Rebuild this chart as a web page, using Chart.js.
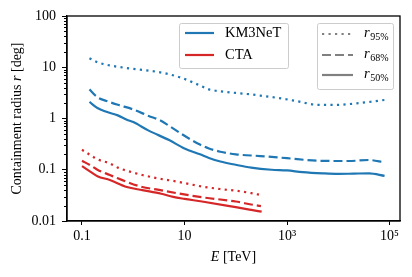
<!DOCTYPE html>
<html>
<head>
<meta charset="utf-8">
<script src="https://cdn.jsdelivr.net/npm/chart.js@4/dist/chart.umd.min.js"></script>
<style>
  html, body { margin: 0; padding: 0; background: #fff; }
</style>
</head>
<body>
<canvas id="chart" width="412" height="277"></canvas>
<script>
// KM3NeT containment radii [deg] vs energy [TeV]
const km95E = [0.14, 0.2, 0.3, 0.5, 1, 2, 3, 5, 8, 12, 20, 30, 50, 100, 200, 300, 700, 1500, 4000, 10000, 20000, 40000, 80000];
const km95R = [15, 12.5, 11.2, 10.2, 9.3, 8.6, 8.1, 7.3, 6.4, 5.5, 4.4, 3.7, 3.4, 3.15, 2.95, 2.8, 2.5, 2.2, 1.85, 1.85, 1.95, 2.1, 2.3];

const km68E = [0.14, 0.2, 0.3, 0.5, 1, 2, 3.3, 5, 10, 20, 30, 50, 100, 300, 1000, 4000, 16000, 39000, 80000];
const km68R = [3.7, 2.6, 2.2, 1.85, 1.5, 1.12, 0.93, 0.72, 0.46, 0.31, 0.26, 0.225, 0.2, 0.185, 0.168, 0.15, 0.148, 0.155, 0.14];

const km50E = [0.14, 0.2, 0.3, 0.5, 0.75, 1, 2, 5, 10, 20, 30, 50, 100, 200, 500, 1000, 2000, 5000, 10000, 20000, 40000, 80000];
const km50R = [2.1, 1.6, 1.35, 1.15, 0.95, 0.85, 0.58, 0.38, 0.26, 0.2, 0.17, 0.145, 0.125, 0.11, 0.1, 0.097, 0.09, 0.085, 0.083, 0.084, 0.085, 0.076];

// CTA containment radii [deg] vs energy [TeV]
const cta95E = [0.1, 0.15, 0.2, 0.35, 0.5, 1, 1.5, 3, 7, 10, 22, 50, 100, 200, 310];
const cta95R = [0.245, 0.19, 0.16, 0.133, 0.11, 0.088, 0.079, 0.068, 0.059, 0.055, 0.047, 0.042, 0.039, 0.035, 0.032];

const cta68E = [0.1, 0.15, 0.2, 0.35, 0.5, 1.5, 3, 7, 22, 100, 200, 310];
const cta68R = [0.15, 0.12, 0.1, 0.079, 0.068, 0.046, 0.041, 0.035, 0.029, 0.024, 0.021, 0.0195];

const cta50E = [0.1, 0.15, 0.2, 0.35, 0.75, 1.5, 3.5, 6, 10, 22, 100, 200, 320];
const cta50R = [0.118, 0.09, 0.075, 0.063, 0.046, 0.04, 0.034, 0.0295, 0.027, 0.024, 0.0186, 0.0165, 0.0152];

const xTicks = [0.1, 10, 1000, 100000];
const xTickLabels = ["0.1", "10", "10\u00B3", "10\u2075"];
const yTicks = [0.01, 0.1, 1, 10, 100];
const yTickLabels = ["0.01", "0.1", "1", "10", "100"];

const BLUE = "#1f77b4";
const RED = "#d62728";
const FONT = "'Liberation Serif', 'DejaVu Serif', serif";
const LW = 2.2;
const DOTTED = [2.2, 4.3];
const DASHED = [9, 4];

const pts = (xs, ys) => xs.map((x, i) => ({ x: x, y: ys[i] }));

const line = (data, color, dash) => ({
  data: data,
  borderColor: color,
  borderWidth: LW,
  borderDash: dash,
  borderCapStyle: "butt",
  pointRadius: 0,
  fill: false,
  cubicInterpolationMode: "monotone",
});

const setTicks = (values) => (scale) => {
  scale.ticks = values.map((v) => ({ value: v }));
};

// frame, minor ticks, legends and axis titles
const extras = {
  id: "extras",
  afterDraw(chart) {
    const { ctx, chartArea: a, scales } = chart;
    const y = scales.y;
    ctx.save();

    // minor y ticks
    ctx.strokeStyle = "#000";
    ctx.lineWidth = 1;
    ctx.beginPath();
    for (let d = -2; d < 2; d++) {
      for (let m = 2; m < 10; m++) {
        const p = Math.round(y.getPixelForValue(m * Math.pow(10, d))) + 0.5;
        ctx.moveTo(a.left - 3, p);
        ctx.lineTo(a.left, p);
      }
    }
    ctx.stroke();

    // full frame
    ctx.lineWidth = 1.3;
    ctx.strokeRect(a.left, a.top, a.right - a.left, a.bottom - a.top);

    // legend boxes
    const box = (x0, y0, x1, y1) => {
      ctx.fillStyle = "rgba(255,255,255,0.85)";
      ctx.strokeStyle = "#cccccc";
      ctx.lineWidth = 1;
      ctx.beginPath();
      ctx.roundRect(x0 + 0.5, y0 + 0.5, x1 - x0, y1 - y0, 2);
      ctx.fill();
      ctx.stroke();
    };
    const sample = (x0, x1, yy, color, dash) => {
      ctx.strokeStyle = color;
      ctx.lineWidth = LW;
      ctx.setLineDash(dash);
      ctx.beginPath();
      ctx.moveTo(x0, yy);
      ctx.lineTo(x1, yy);
      ctx.stroke();
      ctx.setLineDash([]);
    };

    ctx.textBaseline = "middle";
    ctx.textAlign = "left";

    box(179, 23, 288, 68);
    sample(185, 214, 33, BLUE, []);
    sample(185, 214, 55, RED, []);
    ctx.fillStyle = "#000";
    ctx.font = "14.5px " + FONT;
    ctx.fillText("KM3NeT", 225, 33);
    ctx.fillText("CTA", 225, 55);

    box(317, 23, 393, 89);
    const rows = [[34, DOTTED, "95%"], [55, DASHED, "68%"], [75, [], "50%"]];
    rows.forEach(([yy, dash, sub]) => {
      sample(322, 353, yy, "#808080", dash);
      ctx.fillStyle = "#000";
      ctx.font = "italic 14.5px " + FONT;
      ctx.fillText("r", 364, yy - 1);
      const w = ctx.measureText("r").width;
      ctx.font = "10px " + FONT;
      ctx.fillText(sub, 364 + w + 0.5, yy + 3);
    });

    // axis titles with italic symbols
    const size = "14px ";
    const parts = (segs, x0, yy) => {
      let x = x0;
      segs.forEach(([t, it]) => {
        ctx.font = (it ? "italic " : "") + size + FONT;
        ctx.fillText(t, x, yy);
        x += ctx.measureText(t).width;
      });
    };
    const width = (segs) => segs.reduce((s, [t, it]) => {
      ctx.font = (it ? "italic " : "") + size + FONT;
      return s + ctx.measureText(t).width;
    }, 0);

    ctx.fillStyle = "#000";
    const xt = [["E", true], [" [TeV]", false]];
    parts(xt, (a.left + a.right) / 2 - width(xt) / 2, 257);

    const yt = [["Containment radius ", false], ["r", true], [" [deg]", false]];
    ctx.translate(17, (a.top + a.bottom) / 2);
    ctx.rotate(-Math.PI / 2);
    parts(yt, -width(yt) / 2, 0);

    ctx.restore();
  },
};

new Chart(document.getElementById("chart"), {
  type: "line",
  data: {
    datasets: [
      line(pts(km95E, km95R), BLUE, DOTTED),
      line(pts(km68E, km68R), BLUE, DASHED),
      line(pts(km50E, km50R), BLUE, []),
      line(pts(cta95E, cta95R), RED, DOTTED),
      line(pts(cta68E, cta68R), RED, DASHED),
      line(pts(cta50E, cta50R), RED, []),
    ],
  },
  options: {
    responsive: false,
    animation: false,
    layout: { padding: { top: 16, right: 12, left: 0, bottom: 0 } },
    plugins: { legend: { display: false }, tooltip: { enabled: false } },
    scales: {
      x: {
        type: "logarithmic",
        min: 0.051,
        max: 160000,
        afterBuildTicks: setTicks(xTicks),
        afterFit: (s) => { s.height = 56; },
        grid: { display: true, drawOnChartArea: false, drawTicks: true, tickLength: 4, color: "#000", lineWidth: 1 },
        border: { display: true, color: "#000", width: 1.3 },
        ticks: {
          autoSkip: false,
          maxRotation: 0,
          padding: 3,
          color: "#000",
          font: { family: FONT, size: 14 },
          callback: (v) => xTickLabels[xTicks.indexOf(v)],
        },
      },
      y: {
        type: "logarithmic",
        min: 0.01,
        max: 100,
        afterBuildTicks: setTicks(yTicks),
        afterFit: (s) => { s.width = 67; },
        grid: { display: true, drawOnChartArea: false, drawTicks: true, tickLength: 5, color: "#000", lineWidth: 1 },
        border: { display: true, color: "#000", width: 1.3 },
        ticks: {
          autoSkip: false,
          padding: 6,
          color: "#000",
          font: { family: FONT, size: 14 },
          callback: (v) => yTickLabels[yTicks.indexOf(v)],
        },
      },
    },
  },
  plugins: [extras],
});
</script>
</body>
</html>
